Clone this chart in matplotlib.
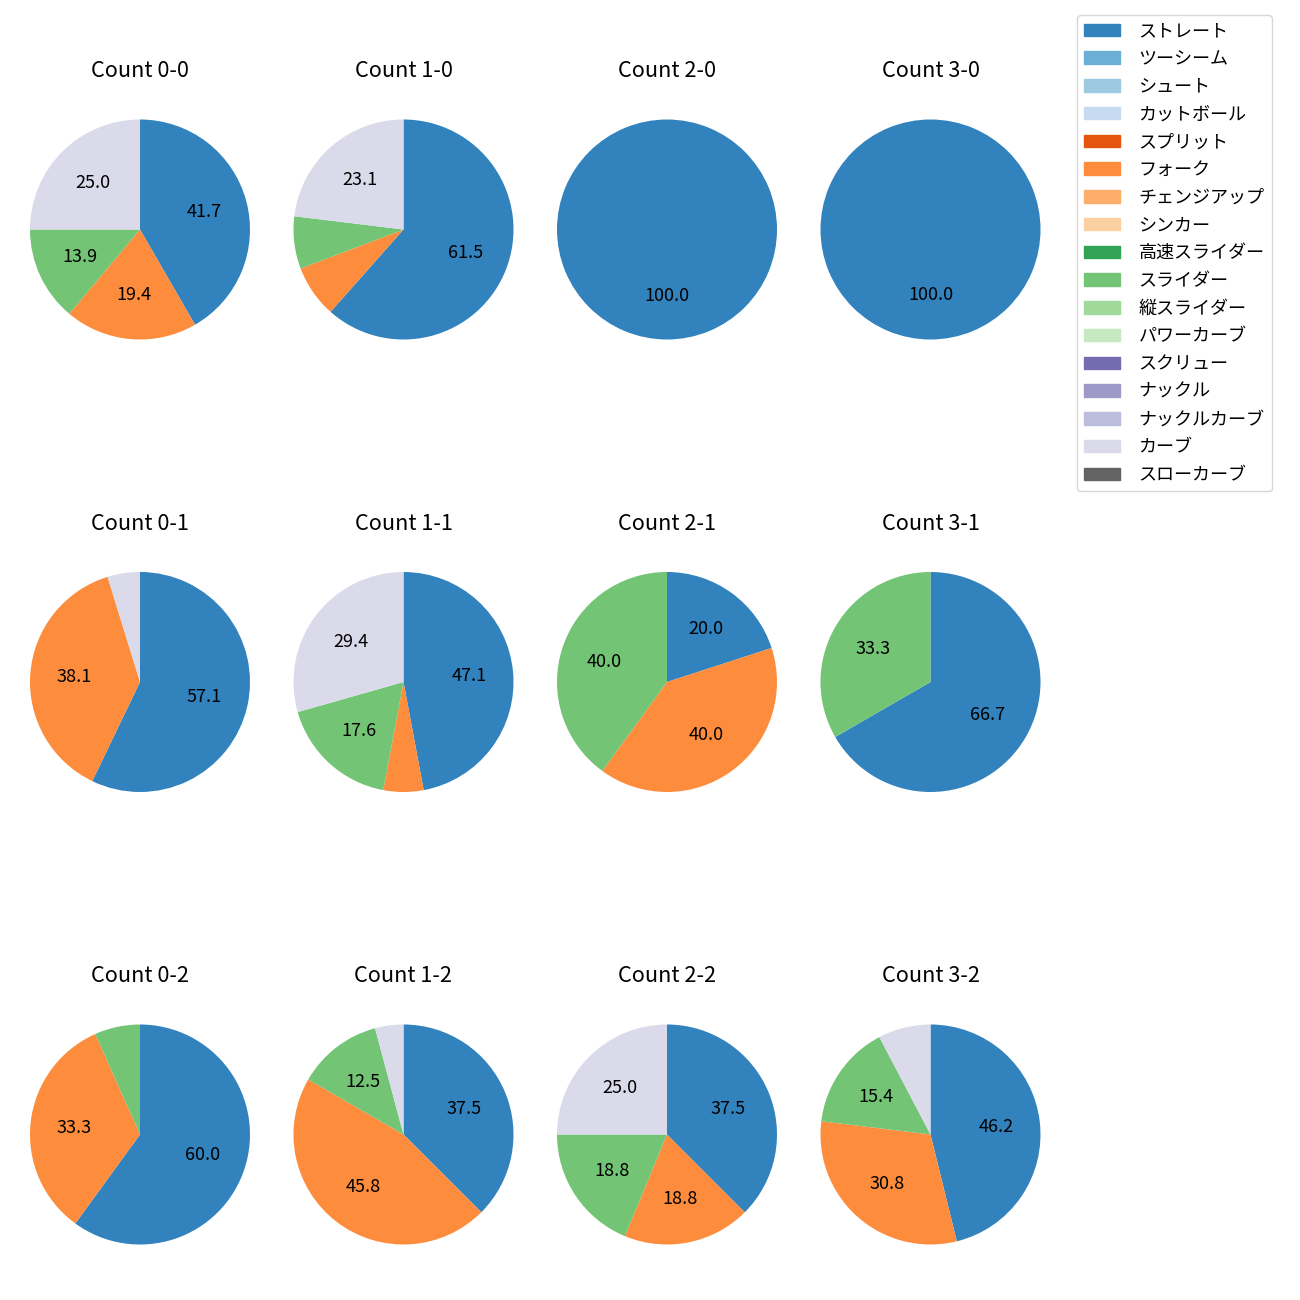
import matplotlib
matplotlib.use("Agg")
import matplotlib.pyplot as plt
from matplotlib.patches import Patch

plt.rcParams["font.family"] = ["Noto Sans CJK JP", "DejaVu Sans"]

pitch_types = ["ストレート", "ツーシーム", "シュート", "カットボール", "スプリット", "フォーク",
               "チェンジアップ", "シンカー", "高速スライダー", "スライダー", "縦スライダー",
               "パワーカーブ", "スクリュー", "ナックル", "ナックルカーブ", "カーブ", "スローカーブ"]
pitch_colors = ["#3182bd", "#6baed6", "#9ecae1", "#c6dbef", "#e6550d", "#fd8d3c",
                "#fdae6b", "#fdd0a2", "#31a354", "#74c476", "#a1d99b", "#c7e9c0",
                "#756bb1", "#9e9ac8", "#bcbddc", "#dadaeb", "#636363"]

# pitch counts per ball-strike count: (ストレート, フォーク, スライダー, カーブ)
shown_types = ["ストレート", "フォーク", "スライダー", "カーブ"]
counts = {
    "0-0": [15, 7, 5, 9],
    "1-0": [8, 1, 1, 3],
    "2-0": [1, 0, 0, 0],
    "3-0": [1, 0, 0, 0],
    "0-1": [12, 8, 0, 1],
    "1-1": [8, 1, 3, 5],
    "2-1": [1, 2, 2, 0],
    "3-1": [2, 0, 1, 0],
    "0-2": [9, 5, 1, 0],
    "1-2": [9, 11, 3, 1],
    "2-2": [6, 3, 3, 4],
    "3-2": [6, 4, 2, 1],
}
balls = ["0", "1", "2", "3"]
strikes = ["0", "1", "2"]

W, H = 1300, 1300
fig = plt.figure(figsize=(13, 13), dpi=100)
size = 275
col_x = [140, 403.5, 667, 930.5]
row_y = [229.5, 682, 1134.5]
color_map = dict(zip(pitch_types, pitch_colors))

for r, s in enumerate(strikes):
    for c, b in enumerate(balls):
        key = f"{b}-{s}"
        ax = fig.add_axes([(col_x[c] - size / 2) / W, 1 - (row_y[r] + size / 2) / H,
                           size / W, size / H])
        vals = [v for v in counts[key] if v > 0]
        cols = [color_map[t] for t, v in zip(shown_types, counts[key]) if v > 0]
        ax.pie(vals, colors=cols, startangle=90, counterclock=False,
               autopct=lambda p: f"{p:.1f}" if p >= 10 else "",
               textprops={"fontsize": 13})
        ax.set_title(f"Count {key}", fontsize=15.6, pad=10.5)

handles = [Patch(color=col, label=lab) for lab, col in zip(pitch_types, pitch_colors)]
fig.legend(handles=handles, loc="upper left", bbox_to_anchor=(1077 / W, 1 - 15 / H),
           borderaxespad=0, fontsize=13, labelspacing=0.54, handletextpad=1.0)

plt.savefig("out.png", dpi=100)
plt.close()
